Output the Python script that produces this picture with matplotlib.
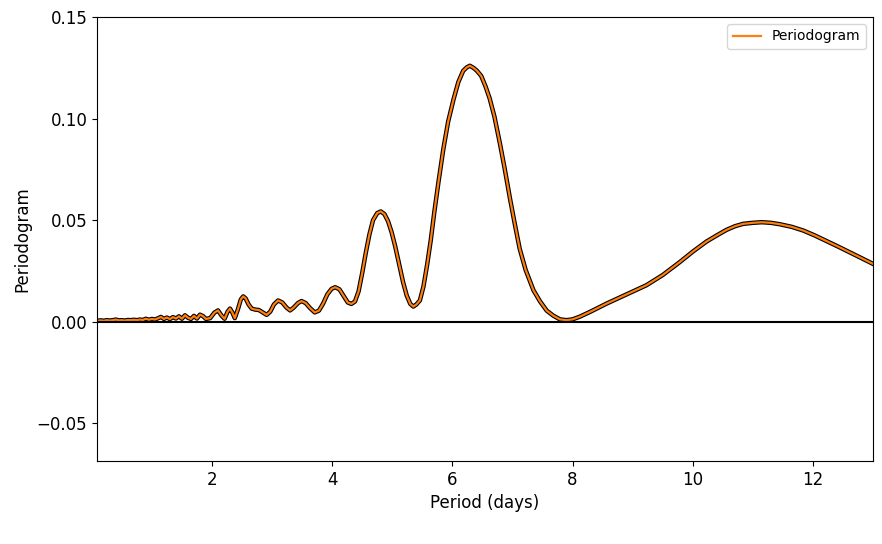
import numpy as np
import matplotlib
matplotlib.use("Agg")
from matplotlib import pyplot as plt
from matplotlib.ticker import MultipleLocator

# periode in tagen und periodogramm-werte
period = [0.09, 0.15, 0.2, 0.25, 0.3, 0.35, 0.4, 0.45, 0.5, 0.55, 0.6, 0.65, 0.7, 0.75,
          0.8, 0.85, 0.9, 0.95, 1.0, 1.05, 1.1, 1.15, 1.2, 1.25, 1.3, 1.35, 1.4, 1.45,
          1.5, 1.55, 1.6, 1.65, 1.7, 1.75, 1.8, 1.85, 1.9, 1.97, 2.04, 2.10, 2.16, 2.21,
          2.26, 2.30, 2.34, 2.38, 2.43, 2.48, 2.52, 2.56, 2.61, 2.66, 2.72, 2.78, 2.85,
          2.91, 2.97, 3.03, 3.10, 3.17, 3.24, 3.30, 3.36, 3.43, 3.49, 3.56, 3.63, 3.71,
          3.78, 3.85, 3.92, 3.99, 4.05, 4.12, 4.19, 4.26, 4.32, 4.38, 4.44, 4.50, 4.56,
          4.62, 4.68, 4.75, 4.81, 4.87, 4.93, 4.99, 5.05, 5.11, 5.18, 5.24, 5.30, 5.35,
          5.40, 5.46, 5.52, 5.58, 5.64, 5.70, 5.77, 5.85, 5.93, 6.02, 6.10, 6.18, 6.24,
          6.29, 6.35, 6.41, 6.48, 6.55, 6.62, 6.70, 6.79, 6.87, 6.96, 7.04, 7.12, 7.22,
          7.35, 7.46, 7.57, 7.68, 7.79, 7.90, 8.0, 8.12, 8.3, 8.57, 8.9, 9.23, 9.5, 9.79,
          10.0, 10.23, 10.4, 10.56, 10.7, 10.84, 11.0, 11.15, 11.3, 11.45, 11.65, 11.84,
          12.03, 12.23, 12.42, 12.62, 12.81, 13.0]
power = [0.0005, 0.0007, 0.0005, 0.0008, 0.0006, 0.0008, 0.0011, 0.0007, 0.0008, 0.0006,
         0.0009, 0.0008, 0.0010, 0.0008, 0.0011, 0.0009, 0.0015, 0.0010, 0.0014, 0.0011,
         0.0017, 0.0024, 0.0014, 0.0021, 0.0013, 0.0023, 0.0016, 0.0027, 0.0015, 0.0032,
         0.0020, 0.0014, 0.0029, 0.0016, 0.0035, 0.0028, 0.0014, 0.0018, 0.0045, 0.0056,
         0.0030, 0.0015, 0.0050, 0.0065, 0.0045, 0.0018, 0.0060, 0.0110, 0.0125, 0.0115,
         0.0085, 0.0065, 0.0060, 0.0058, 0.0045, 0.0034, 0.0050, 0.0085, 0.0105, 0.0095,
         0.0070, 0.0056, 0.0070, 0.0092, 0.0102, 0.0092, 0.0068, 0.0046, 0.0055, 0.0090,
         0.0135, 0.0162, 0.0170, 0.0160, 0.0128, 0.0095, 0.0088, 0.0100, 0.0150, 0.0240,
         0.0340, 0.0430, 0.0500, 0.0535, 0.0543, 0.0530, 0.0495, 0.0440, 0.0370, 0.0290,
         0.0195, 0.0130, 0.0088, 0.0075, 0.0085, 0.0105, 0.0175, 0.0280, 0.0400, 0.0540,
         0.0690, 0.0850, 0.0985, 0.1095, 0.1180, 0.1235, 0.1252, 0.1260, 0.1250, 0.1235,
         0.1210, 0.1160, 0.1100, 0.1010, 0.0880, 0.0755, 0.0605, 0.0480, 0.0360, 0.0255,
         0.0155, 0.0100, 0.0055, 0.0030, 0.0012, 0.0008, 0.0012, 0.0025, 0.0050, 0.0090,
         0.0135, 0.0180, 0.0230, 0.0295, 0.0345, 0.0395, 0.0425, 0.0452, 0.0470, 0.0482,
         0.0487, 0.0490, 0.0487, 0.0480, 0.0467, 0.0449, 0.0425, 0.0397, 0.0370, 0.0341,
         0.0313, 0.0285]

fig = plt.figure(figsize=(8.82, 5.44), dpi=100)
ax = fig.add_axes([0.110, 0.1526, 0.8798, 0.8162])

ax.plot(period, power, color="k", lw=3.2)  # schwarzer rand
ax.plot(period, power, color="#ff7f0e", lw=1.6, label="Periodogram")
ax.axhline(0, color="k", lw=1.5)

ax.set_xlim(0.087, 13.0)
ax.set_ylim(-0.0685, 0.15)
ax.yaxis.set_major_locator(MultipleLocator(0.05))
ax.set_xlabel("Period (days)", fontsize=12)
ax.set_ylabel("Periodogram", fontsize=12)
ax.tick_params(labelsize=12)
ax.legend(loc="upper right")

fig.savefig("out.png", dpi=100)
